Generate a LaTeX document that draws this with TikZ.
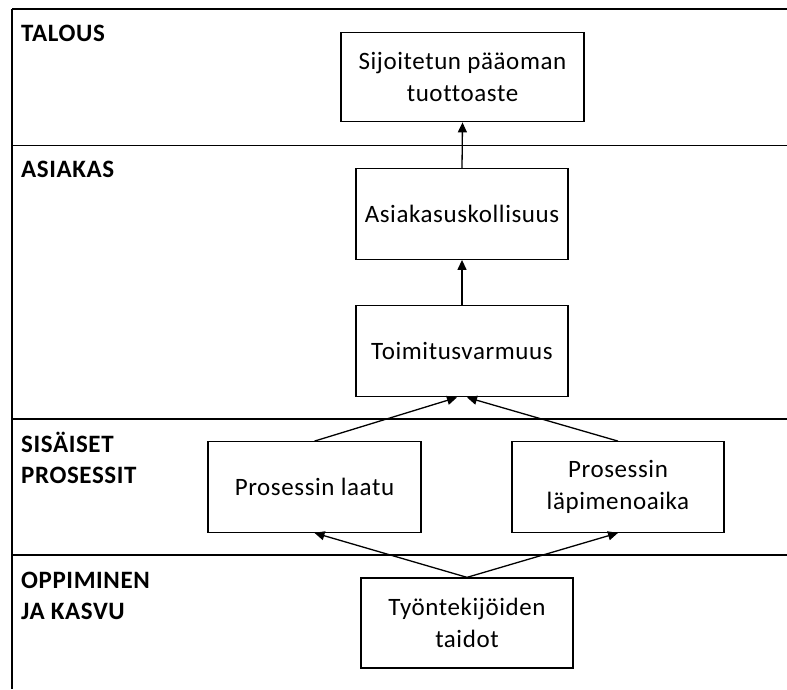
\documentclass[tikz,border=0pt]{standalone}
\usepackage{fontspec}
\setmainfont{Carlito}[Ligatures=NoCommon,LetterSpace=2.4]
\usetikzlibrary{arrows.meta}
\begin{document}
\begin{tikzpicture}[x=1pt,y=-1pt,
  rule/.style={line width=1.3pt},
  box/.style={draw,line width=1.3pt,align=center,inner sep=0pt,
    font=\fontsize{25}{32}\selectfont},
  lane/.style={anchor=base west,align=left,inner sep=0pt,
    font=\fontsize{25}{30.5}\selectfont\bfseries},
  link/.style={line width=1.3pt,-{Triangle[length=10pt,width=9pt]}}]
\useasboundingbox (0,0) rectangle (787,689);

% lane frame
\coordinate (f0) at (12,9);
\coordinate (f0r) at (787,9);
\coordinate (f1) at (12,145.5);
\coordinate (f1r) at (787,145.5);
\coordinate (f2) at (12,419);
\coordinate (f2r) at (787,419);
\coordinate (f3) at (12,555);
\coordinate (f3r) at (787,555);
\coordinate (fb) at (12,689);
\draw[rule] (f0) -- (f0r);
\draw[rule] (f1) -- (f1r);
\draw[rule] (f2) -- (f2r);
\draw[rule] (f3) -- (f3r);
\draw[rule] (f0) -- (fb);

% lane titles (base = last line)
\node[lane] (lt) at (21,41) {TALOUS};
\node[lane] (la) at (21,177) {ASIAKAS};
\node[lane] (ls) at (21,483) {SISÄISET\\PROSESSIT};
\node[lane] (lo) at (21,619) {OPPIMINEN\\JA KASVU};

% measures
\node[box,minimum width=243pt,minimum height=89.5pt] (b1) at (462.5,77) {Sijoitetun pääoman\\tuottoaste};
\node[box,minimum width=212pt,minimum height=90.5pt] (b2) at (462,214) {Asiakasuskollisuus};
\node[box,minimum width=212pt,minimum height=91.5pt] (b3) at (462,351) {Toimitusvarmuus};
\node[box,minimum width=213pt,minimum height=90.5pt] (b4) at (314.5,487) {Prosessin laatu};
\node[box,minimum width=212pt,minimum height=90.5pt] (b5) at (618,487) {Prosessin\\läpimenoaika};
\node[box,minimum width=212pt,minimum height=90pt] (b6) at (467,623) {Työntekijöiden\\taidot};

% cause-and-effect links
\coordinate (t4) at ([xshift=-5pt]b3.south);
\coordinate (t5) at ([xshift=5pt]b3.south);
\draw[link] (b2.north) -- (b1.south);
\draw[link] (b3.north) -- (b2.south);
\draw[link] (b4.north) -- (t4);
\draw[link] (b5.north) -- (t5);
\draw[link] (b6.north) -- (b4.south);
\draw[link] (b6.north) -- (b5.south);
\end{tikzpicture}
\end{document}
